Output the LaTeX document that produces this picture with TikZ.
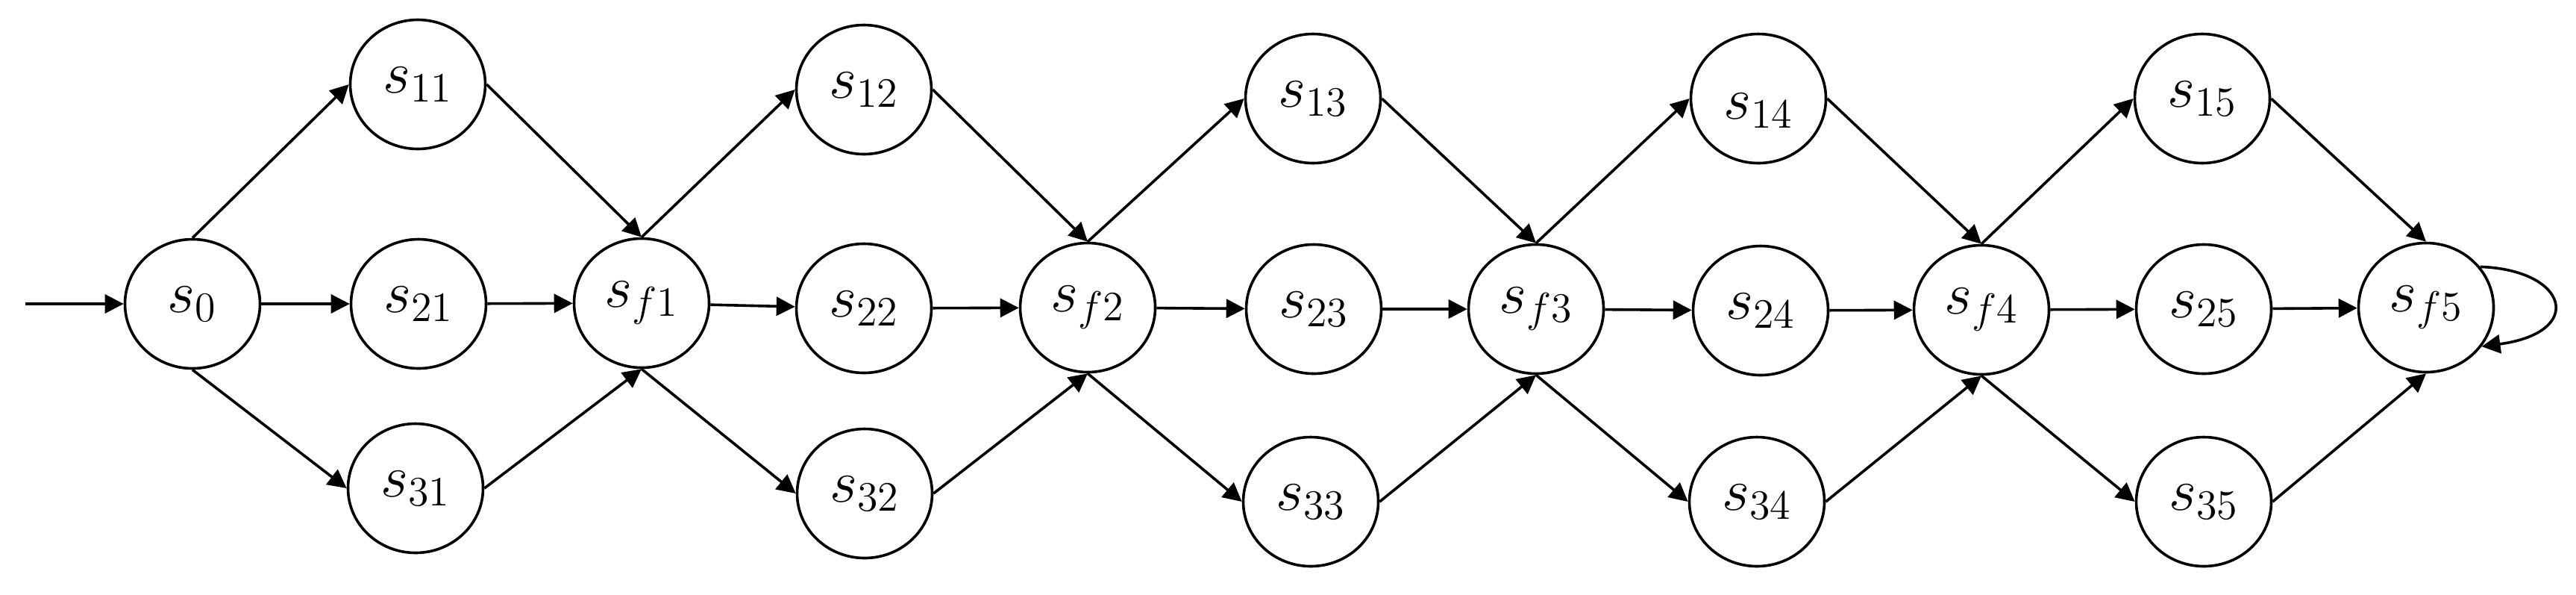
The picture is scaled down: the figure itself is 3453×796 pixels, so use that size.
\documentclass[tikz,border=0pt]{standalone}
\usepackage{fix-cm}
\usetikzlibrary{arrows.meta,shapes.geometric}
\begin{document}
\begin{tikzpicture}[x=0.25pt,y=-0.25pt,
  st/.style={ellipse,draw,line width=0.9pt,minimum width=45.25pt,minimum height=43.25pt,inner sep=0pt,font=\fontsize{20}{24}\selectfont},
  lab/.style={font=\fontsize{20}{24}\selectfont,inner sep=0pt},
  ar/.style={-{Triangle[length=6.25pt,width=6.25pt]},line width=0.9pt}]
\useasboundingbox (0,0) rectangle (3453,796);
\coordinate (start) at (34,407);
\node[st] (s0) at (258,407) {$s_0$};
\node[st] (s11) at (560,113) {$s_{11}$};
\node[st] (s21) at (561,407) {$s_{21}$};
\node[st] (s31) at (557,654) {$s_{31}$};
\node[st] (sf1) at (860,406) {$s_{f1}$};
\node[st] (s12) at (1158,120) {$s_{12}$};
\node[st] (s22) at (1158,413) {$s_{22}$};
\node[st] (s32) at (1159,661) {$s_{32}$};
\node[st] (sf2) at (1458,412) {$s_{f2}$};
\node[st] (s13) at (1760,132) {$s_{13}$};
\node[st] (s23) at (1761,414) {$s_{23}$};
\node[st] (s33) at (1757,672) {$s_{33}$};
\node[st] (sf3) at (2059,414) {$s_{f3}$};
\node[st,label={[lab,yshift=-4pt]center:$s_{14}$}] (s14) at (2357,132) {};
\node[st] (s24) at (2360,416) {$s_{24}$};
\node[st] (s34) at (2355,672) {$s_{34}$};
\node[st] (sf4) at (2656,415) {$s_{f4}$};
\node[st] (s15) at (2952,132) {$s_{15}$};
\node[st] (s25) at (2954,414) {$s_{25}$};
\node[st] (s35) at (2954,672) {$s_{35}$};
\node[st] (sf5) at (3252,412) {$s_{f5}$};
\draw[ar] (start) -- (s0);
\draw[ar] (s0.north) -- (s11.west);
\draw[ar] (s0) -- (s21);
\draw[ar] (s0.south) -- (s31.west);
\draw[ar] (s11.east) -- (sf1.north);
\draw[ar] (s21) -- (sf1);
\draw[ar] (s31.east) -- (sf1.south);
\draw[ar] (sf1.north) -- (s12.west);
\draw[ar] (sf1) -- (s22);
\draw[ar] (sf1.south) -- (s32.west);
\draw[ar] (s12.east) -- (sf2.north);
\draw[ar] (s22) -- (sf2);
\draw[ar] (s32.east) -- (sf2.south);
\draw[ar] (sf2.north) -- (s13.west);
\draw[ar] (sf2) -- (s23);
\draw[ar] (sf2.south) -- (s33.west);
\draw[ar] (s13.east) -- (sf3.north);
\draw[ar] (s23) -- (sf3);
\draw[ar] (s33.east) -- (sf3.south);
\draw[ar] (sf3.north) -- (s14.west);
\draw[ar] (sf3) -- (s24);
\draw[ar] (sf3.south) -- (s34.west);
\draw[ar] (s14.east) -- (sf4.north);
\draw[ar] (s24) -- (sf4);
\draw[ar] (s34.east) -- (sf4.south);
\draw[ar] (sf4.north) -- (s15.west);
\draw[ar] (sf4) -- (s25);
\draw[ar] (sf4.south) -- (s35.west);
\draw[ar] (s15.east) -- (sf5.north);
\draw[ar] (s25) -- (sf5);
\draw[ar] (s35.east) -- (sf5.south);
\draw[ar] (sf5.37) .. controls +(118,4) and +(140,-19) .. (sf5.-35);
\end{tikzpicture}
\end{document}
